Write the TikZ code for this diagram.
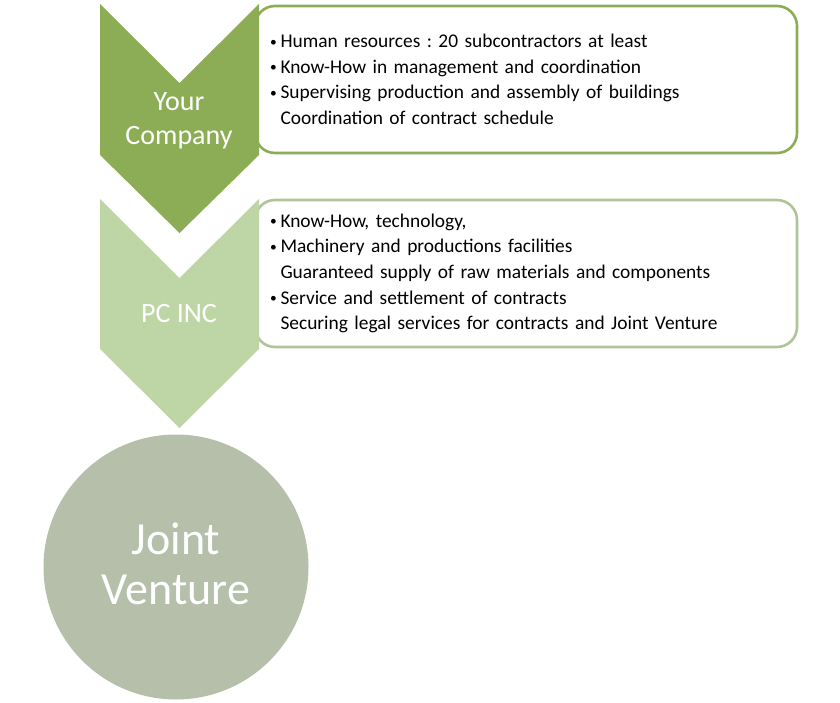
\documentclass[tikz,border=0pt]{standalone}
\usepackage{fontspec}
\setmainfont{Carlito}
\usepackage{tikz}
\usetikzlibrary{positioning}
\definecolor{YourGreen}{RGB}{140,173,85}
\definecolor{PcGreen}{RGB}{190,214,165}
\definecolor{JvGray}{RGB}{181,191,170}
\newcommand{\bul}{\makebox[10.5pt][l]{\raisebox{1.6pt}{\fontsize{13.5}{13.5}\selectfont\textbullet}}}
\newcommand{\nob}{\hspace*{10.5pt}}
\frenchspacing
\tikzset{
  infobox/.style={
    draw=#1,
    line width=2.6pt,
    fill=white,
    rounded corners=20pt,
    minimum width=542pt,
    minimum height=147pt,
    text width=512pt,
    inner xsep=15pt,
    align=left,
    font=\fontsize{19.4}{25.6}\selectfont
  },
  chevtext/.style={
    text=white,
    align=center,
    font=\fontsize{28}{34}\selectfont
  },
  jvtext/.style={
    text=white,
    align=center,
    font=\fontsize{46}{50}\selectfont
  }
}
\begin{document}
\begin{tikzpicture}[x=1pt,y=-1pt]
    \useasboundingbox (0,0) rectangle (840,703);
    % boxes first, chevrons overlap their left side
    \node[infobox=YourGreen] (yourbox) at (526,79.5) {%
      \bul Human resources : 20 subcontractors at least\\
      \bul Know-How in management and coordination\\
      \bul Supervising production and assembly of buildings\\
      \nob Coordination of contract schedule};
    \node[infobox=PcGreen!92!black] (pcbox) at (526,273.5) {%
      \bul Know-How, technology,\\
      \bul Machinery and productions facilities\\
      \nob Guaranteed supply of raw materials and components\\
      \bul Service and settlement of contracts\\
      \nob Securing legal services for contracts and Joint Venture};
    % chevrons
    \fill[YourGreen] (100,4) -- (179.5,83) -- (259,4) -- (259,155) -- (179.5,233) -- (100,155) -- cycle;
    \fill[PcGreen] (100,199) -- (179.5,278) -- (259,199) -- (259,349) -- (179.5,428) -- (100,349) -- cycle;
    \node[chevtext] (you) at (179,121) {Your\\Company};
    \node[chevtext] (pc) at (179,314) {PC INC};
    % joint venture
    \node[circle,fill=JvGray,minimum size=265pt,inner sep=0pt] (jv) at (176,567) {};
    \node[jvtext] (jvlabel) at (176,564) {Joint\\Venture};
  \end{tikzpicture}
\end{document}
